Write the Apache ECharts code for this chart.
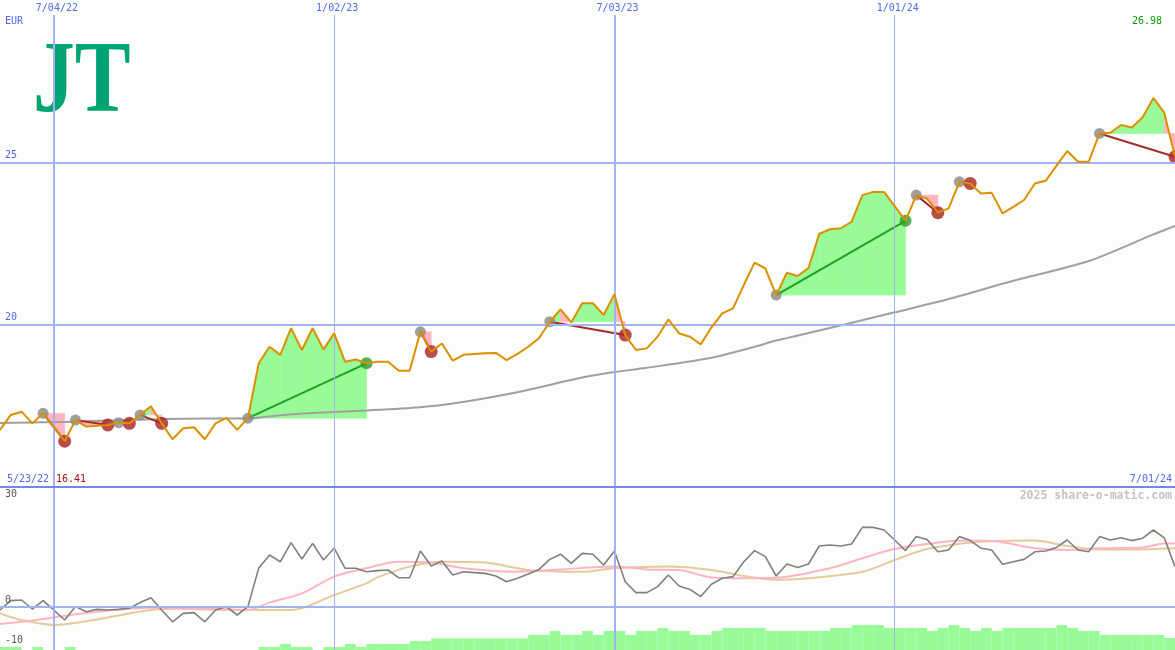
<!DOCTYPE html>
<html><head><meta charset="utf-8">
<script src="https://cdn.jsdelivr.net/npm/echarts@6/dist/echarts.min.js"></script>
<style>html,body{margin:0;padding:0;background:#fbfefb;}#c{width:1175px;height:650px;}</style>
</head><body><div id="c"></div>
<script>
// ---------- data ----------
const startDate = '2022-05-30';            // first weekly point
const price = [
 16.76,17.22,17.32,16.96,17.27,16.85,16.41,17.06,16.86,16.89,
 16.91,16.98,16.96,17.22,17.49,16.96,16.47,16.81,16.84,16.47,
 16.96,17.13,16.76,17.12,18.81,19.32,19.07,19.89,19.22,19.89,
 19.24,19.73,18.86,18.93,18.81,18.86,18.86,18.58,18.58,19.78,
 19.17,19.42,18.89,19.07,19.10,19.12,19.13,18.91,19.10,19.32,
 19.58,20.09,20.47,20.07,20.66,20.66,20.30,20.94,19.68,19.22,
 19.27,19.63,20.16,19.73,19.63,19.39,19.92,20.35,20.50,21.22,
 21.91,21.73,20.91,21.60,21.50,21.74,22.80,22.94,22.97,23.17,
 23.99,24.09,24.09,23.65,23.20,23.99,23.88,23.45,23.58,24.40,
 24.35,24.04,24.06,23.43,23.63,23.84,24.35,24.43,24.89,25.35,
 25.02,25.02,25.89,25.91,26.15,26.07,26.39,26.98,26.53,25.17];
const maWeeks  = [0,5,19,23,26,29,34,39,42,48,54,57,60,66,70,72,76,83,88,94,101,107,109];
const maValues = [16.97,17.00,17.11,17.11,17.21,17.28,17.36,17.46,17.57,17.92,18.37,18.54,18.67,18.98,19.32,19.51,19.82,20.38,20.79,21.35,21.96,22.78,23.04];
const tradeEntries = [4,7,11,13,23,39,51,72,85,89,102];
const tradeExits   = [6,10,12,15,34,40,58,84,87,90,109];
const osc = [
 -0.75,1.6,1.75,-0.5,1.6,-0.8,-3.25,0.1,-1.2,-0.6,
 -0.75,-0.6,-0.3,1.1,2.3,-0.75,-3.7,-1.6,-1.4,-3.7,
 -0.75,0.1,-2.0,0.1,9.7,13.0,11.3,16.1,12.0,15.9,
 11.75,14.7,9.7,9.7,8.8,9.1,9.25,7.3,7.3,14.0,
 10.25,11.5,8.0,8.8,8.6,8.4,7.75,6.3,7.2,8.25,
 9.4,11.9,13.2,10.9,13.4,13.2,10.5,14.0,6.3,3.6,
 3.6,5.1,8.0,5.25,4.4,2.6,5.7,7.2,7.6,11.3,
 14.1,12.6,7.75,10.75,9.9,10.75,15.25,15.5,15.25,15.75,
 19.9,19.9,19.25,16.75,14.1,17.6,16.9,13.8,14.25,17.6,
 16.6,14.7,14.25,10.7,11.3,11.9,13.8,14.0,14.9,16.75,
 14.25,13.8,17.6,16.75,17.3,16.6,17.2,19.25,17.3,10.1];
const pinkWeeks  = [0,2,5,9,14,19,23,25,28,31,34,37,40,43,48,52,57,60,63,66,69,72,77,80,83,86,89,92,96,99,102,106,108,109];
const pinkValues = [-4.25,-3.7,-2.6,-1.2,-0.2,-0.6,-0.75,1.1,3.4,7.6,9.7,11.3,11.1,9.7,8.8,9.4,10.1,9.4,9.25,7.4,7.2,7.3,9.7,12.2,14.5,15.75,16.6,16.5,14.7,14.25,14.7,14.9,15.9,15.9];
const tanWeeks  = [0,2,5,9,14,19,23,27,31,34,35,38,41,45,49,54,57,62,66,69,72,75,80,83,86,91,96,99,102,105,109];
const tanValues = [-1.6,-3.25,-4.5,-3.1,-0.75,-0.3,-0.75,-0.75,3.0,5.9,7.4,10.1,11.3,11.1,9.25,8.8,9.7,10.1,9.25,7.75,6.8,7.2,8.8,11.75,14.5,16.3,16.6,15.25,14.4,14.4,14.7];
const volume = [
 3,3,0,3,0,0,3,0,0,0,
 0,0,0,0,0,0,0,0,0,0,
 0,0,0,0,3,3,6,3,3,0,
 3,3,6,3,6,6,6,6,9,9,
 11.7,11.7,11.7,11.7,11.7,11.7,11.7,11.7,11.7,15,
 15,19,15,15,19,15,19,19,15,19,
 19,22,19,19,15,15,19,22,22,22,
 22,19,19,19,19,19,19,22,22,25,
 25,25,22,22,22,22,19,22,25,22,
 19,22,19,22,22,22,22,22,25,22,
 19,19,15,15,15,15,15,15,12,12];
const gridDates  = ['2022-07-04','2023-01-02','2023-07-03','2024-01-01'];
const gridLabels = ['7/04/22','1/02/23','7/03/23','1/01/24'];
const priceTicks = [25,20];
const oscTicks = [30,0,-10];
const rangeStartLabel = '5/23/22';
const rangeEndLabel = '7/01/24';
const currency = 'EUR';
const logoText = 'JT';
const watermark = '2025 share-o-matic.com';

// ---------- helpers ----------
const DAY = 86400000;
function utc(s){const a=s.split('-').map(Number);return Date.UTC(a[0],a[1]-1,a[2]);}
const T0 = utc(startDate);
const wk = i => T0 + i*7*DAY;
const xMin = wk(0), xMax = wk(price.length-1);
const BG='#fbfefb', GRID='#a4b2f2', SEP='#7886ea', BLUE='#5468ee', FONT='DejaVu Sans Mono';
const GREEN_FILL='#98fb98', PINK_FILL='#ffb6c1';
const maxLabel = Math.max(...price).toFixed(2);
const minLabel = Math.min(...price).toFixed(2);

const fillData=[], tradeLines=[], entryPts=[], exitLoss=[], exitGain=[];
tradeEntries.forEach((a,k)=>{
  const b=tradeExits[k], e=price[a];
  for(let i=a;i<b;i++) fillData.push([wk(i),price[i],wk(i+1),price[i+1],e,price[i+1]>=e?1:0]);
  const gain = price[b]>e;
  tradeLines.push({coords:[[wk(a),e],[wk(b),price[b]]],lineStyle:{color:gain?'#22a022':'#a52a2a'}});
  entryPts.push([wk(a),e]);
  (gain?exitGain:exitLoss).push([wk(b),price[b]]);
});
const xAx = g => ({type:'time',gridIndex:g,min:xMin,max:xMax,show:false});

const chart = echarts.init(document.getElementById('c'),null,{renderer:'canvas'});
chart.setOption({
  backgroundColor:BG,
  animation:false,
  grid:[
    {left:0,right:0,top:-2,height:489},
    {left:0,right:0,top:487,height:163},
    {left:0,right:0,top:600,height:50},
    {left:0,right:0,top:15,height:635}
  ],
  xAxis:[xAx(0),xAx(1),xAx(2),xAx(3)],
  yAxis:[
    {type:'value',gridIndex:0,min:15,max:30,show:false},
    {type:'value',gridIndex:1,min:-10.75,max:30,show:false},
    {type:'value',gridIndex:2,min:0,max:50,show:false},
    {type:'value',gridIndex:3,min:0,max:1,show:false}
  ],
  graphic:[
    {type:'group',left:33,top:34,z:50,children:[
      {type:'rect',shape:{x:0,y:0,width:98,height:84},style:{fill:BG}},
      {type:'text',x:0,y:-14,scaleX:0.82,style:{text:logoText,fill:'#00a374',font:'bold 102px "Liberation Serif"'}}
    ]},
    {type:'text',left:5,top:16,z:50,style:{text:currency,fill:BLUE,font:'10px "'+FONT+'"'}},
    {type:'text',right:13,top:16,z:50,style:{text:maxLabel,fill:'#119911',font:'10px "'+FONT+'"'}},
    {type:'text',left:7,top:474,z:50,style:{text:rangeStartLabel,fill:BLUE,font:'10px "'+FONT+'"'}},
    {type:'text',left:56,top:474,z:50,style:{text:minLabel,fill:'#a01010',font:'10px "'+FONT+'"'}},
    {type:'text',right:3,top:474,z:50,style:{text:rangeEndLabel,fill:BLUE,font:'10px "'+FONT+'"'}},
    {type:'text',right:3,top:490,z:50,style:{text:watermark,fill:'#c4c4c4',font:'bold 11.5px "'+FONT+'"'}}
  ],
  series:[
    // vertical date grid lines
    {type:'line',xAxisIndex:3,yAxisIndex:3,data:[],z:0,
     markLine:{symbol:'none',silent:true,animation:false,
       data:gridDates.map((d,k)=>({xAxis:utc(d),
         lineStyle:{color:GRID,type:'solid',width:new Date(utc(d)).getUTCMonth()===6?2:1},
         label:{show:true,position:'end',formatter:gridLabels[k],color:BLUE,fontFamily:FONT,fontSize:10,distance:2,offset:[3,0]}}))}},
    // price horizontal grid lines
    {type:'line',xAxisIndex:0,yAxisIndex:0,data:[],z:0,
     markLine:{symbol:'none',silent:true,animation:false,
       data:priceTicks.map(v=>({yAxis:v,lineStyle:{color:GRID,type:'solid',width:2},
         label:{show:true,position:'insideStartTop',formatter:String(v),color:BLUE,fontFamily:FONT,fontSize:10,distance:[5,2]}}))}},
    // oscillator grid lines
    {type:'line',xAxisIndex:1,yAxisIndex:1,data:[],z:0,
     markLine:{symbol:'none',silent:true,animation:false,
       data:oscTicks.map(v=>({yAxis:v,
         lineStyle: v===30?{color:SEP,type:'solid',width:2}:(v===0?{color:GRID,type:'solid',width:2}:{color:'rgba(0,0,0,0)',width:1}),
         label:{show:true,position:v===30?'insideStartBottom':'insideStartTop',formatter:String(v),color:'#555',fontFamily:FONT,fontSize:10,distance:[5,2]}}))}},
    // trade fills
    {type:'custom',xAxisIndex:0,yAxisIndex:0,z:1,data:fillData,encode:{x:[0,2],y:[1,3,4]},
     renderItem:(p,api)=>{
       const a=api.coord([api.value(0),api.value(1)]), b=api.coord([api.value(2),api.value(3)]);
       const ea=api.coord([api.value(0),api.value(4)]), eb=api.coord([api.value(2),api.value(4)]);
       const c=api.value(5)?GREEN_FILL:PINK_FILL;
       return {type:'polygon',shape:{points:[ea,a,b,eb]},style:{fill:c,stroke:c,lineWidth:0.6}};
     }},
    // moving average
    {type:'line',xAxisIndex:0,yAxisIndex:0,z:2,showSymbol:false,smooth:0.3,
     data:maWeeks.map((w,k)=>[wk(w),maValues[k]]),lineStyle:{color:'#a0a0a0',width:2}},
    // trade lines
    {type:'lines',coordinateSystem:'cartesian2d',xAxisIndex:0,yAxisIndex:0,z:3,data:tradeLines,lineStyle:{width:2,opacity:1}},
    {type:'scatter',xAxisIndex:0,yAxisIndex:0,z:4,data:entryPts,symbolSize:11,itemStyle:{color:'#888888'}},
    {type:'scatter',xAxisIndex:0,yAxisIndex:0,z:4,data:exitLoss,symbolSize:13,itemStyle:{color:'#aa2222'}},
    {type:'scatter',xAxisIndex:0,yAxisIndex:0,z:4,data:exitGain,symbolSize:12,itemStyle:{color:'#2a9a2a'}},
    // price
    {type:'line',xAxisIndex:0,yAxisIndex:0,z:5,showSymbol:false,
     data:price.map((v,i)=>[wk(i),v]),lineStyle:{color:'#dc9000',width:2}},
    // volume bars
    {type:'custom',xAxisIndex:2,yAxisIndex:2,z:3,data:volume.map((v,i)=>[wk(i),v,wk(i+1)]),encode:{x:[0,2],y:1},
     renderItem:(p,api)=>{
       const v=api.value(1); if(!v) return;
       const a=api.coord([api.value(0),v]), b=api.coord([api.value(2),0]);
       return {type:'rect',shape:{x:a[0],y:a[1],width:b[0]-a[0],height:b[1]-a[1]},style:{fill:GREEN_FILL}};
     }},
    // oscillator lines
    {type:'line',xAxisIndex:1,yAxisIndex:1,z:2,showSymbol:false,smooth:0.3,
     data:tanWeeks.map((w,k)=>[wk(w),tanValues[k]]),lineStyle:{color:'#e6ca9c',width:2}},
    {type:'line',xAxisIndex:1,yAxisIndex:1,z:2,showSymbol:false,smooth:0.3,
     data:pinkWeeks.map((w,k)=>[wk(w),pinkValues[k]]),lineStyle:{color:'#ffb4c6',width:2}},
    {type:'line',xAxisIndex:1,yAxisIndex:1,z:3,showSymbol:false,
     data:osc.map((v,i)=>[wk(i),v]),lineStyle:{color:'#808080',width:1.6}}
  ]
});
</script></body></html>
